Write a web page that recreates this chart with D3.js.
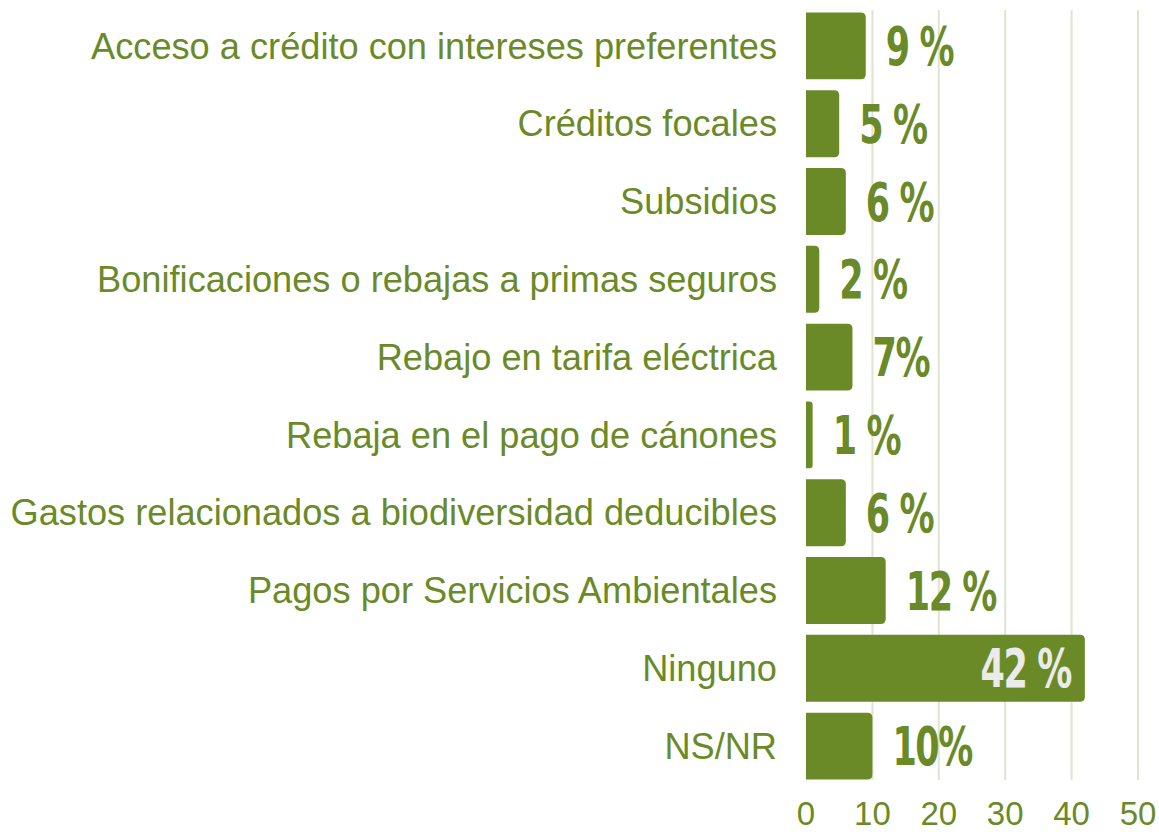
<!DOCTYPE html>
<html>
<head>
<meta charset="utf-8">
<script src="https://cdn.jsdelivr.net/npm/d3@7"></script>
<style>
  body { margin: 0; background: #fff; }
</style>
</head>
<body>
<script>
// Data
var categories = [
  "Acceso a crédito con intereses preferentes",
  "Créditos focales",
  "Subsidios",
  "Bonificaciones o rebajas a primas seguros",
  "Rebajo en tarifa eléctrica",
  "Rebaja en el pago de cánones",
  "Gastos relacionados a biodiversidad deducibles",
  "Pagos por Servicios Ambientales",
  "Ninguno",
  "NS/NR"
];
var values = [9, 5, 6, 2, 7, 1, 6, 12, 42, 10];
var valueLabels = ["9 %", "5 %", "6 %", "2 %", "7%", "1 %", "6 %", "12 %", "42 %", "10%"];
var ticks = [0, 10, 20, 30, 40, 50];

var width = 1159, height = 832;
var green = "#6a8a28";

var svg = d3.select("body").append("svg")
    .attr("width", width)
    .attr("height", height);

// scales
var x = d3.scaleLinear().domain([0, 50]).range([806, 1138]);
var y = d3.scaleBand().domain(categories).range([7, 785]).paddingInner(0.14).paddingOuter(0.07);

// grid lines
svg.append("g").selectAll("line")
    .data(ticks.slice(1))
    .enter().append("line")
    .attr("x1", d => x(d)).attr("x2", d => x(d))
    .attr("y1", 10).attr("y2", 780)
    .attr("stroke", "#dde4cf")
    .attr("stroke-width", 2);

// bars, right corners rounded
var r = 5;
svg.append("g").selectAll("path")
    .data(values)
    .enter().append("path")
    .attr("fill", green)
    .attr("d", function(d, i) {
        var x0 = x(0), x1 = x(d), y0 = y(categories[i]), h = y.bandwidth();
        var rr = Math.min(r, (x1 - x0) / 2);
        return "M" + x0 + "," + y0 +
            "H" + (x1 - rr) +
            "Q" + x1 + "," + y0 + " " + x1 + "," + (y0 + rr) +
            "V" + (y0 + h - rr) +
            "Q" + x1 + "," + (y0 + h) + " " + (x1 - rr) + "," + (y0 + h) +
            "H" + x0 + "Z";
    });

// category labels
svg.append("g").selectAll("text")
    .data(categories)
    .enter().append("text")
    .attr("x", 777)
    .attr("y", d => y(d) + y.bandwidth() / 2)
    .attr("dy", "0.35em")
    .attr("text-anchor", "end")
    .attr("fill", green)
    .style("font-family", "'Liberation Sans', Arial, sans-serif")
    .style("font-size", "36.2px")
    .text(d => d);

// value labels (condensed look via squeeze/stretch)
svg.append("g").selectAll("text")
    .data(values)
    .enter().append("text")
    .attr("transform", function(d, i) {
        var tx = d > 30 ? x(d) - 14 : x(d) + 20;
        var ty = y(categories[i]) + y.bandwidth() / 2 + 19;
        return "translate(" + tx + "," + ty + ") scale(0.7,1.08)";
    })
    .attr("text-anchor", d => d > 30 ? "end" : "start")
    .attr("fill", d => d > 30 ? "#ebebeb" : green)
    .style("font-family", "'DejaVu Sans', sans-serif")
    .style("font-weight", "bold")
    .style("font-size", "50px")
    .style("letter-spacing", "-2px")
    .text((d, i) => valueLabels[i]);

// x axis tick labels
svg.append("g").selectAll("text")
    .data(ticks)
    .enter().append("text")
    .attr("x", d => x(d))
    .attr("y", 825)
    .attr("text-anchor", "middle")
    .attr("fill", green)
    .style("font-family", "'Liberation Sans', Arial, sans-serif")
    .style("font-size", "33px")
    .text(d => d);
</script>
</body>
</html>
